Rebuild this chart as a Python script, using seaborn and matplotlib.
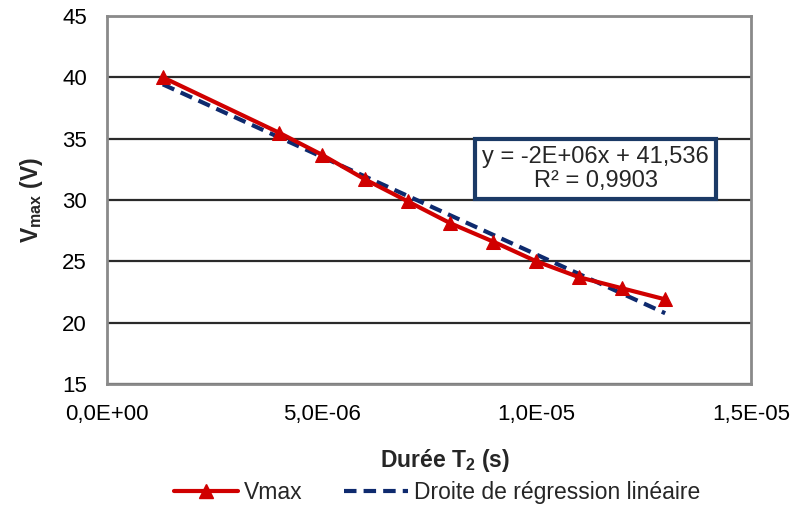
import matplotlib
matplotlib.use("Agg")
import matplotlib.pyplot as plt
import seaborn as sns
import numpy as np
import pandas as pd
from matplotlib.lines import Line2D
from matplotlib.ticker import FuncFormatter

# Data
duree_t2 = [1.3e-6, 4e-6, 5e-6, 6e-6, 7e-6, 8e-6, 9e-6, 1e-5, 1.1e-5, 1.2e-5, 1.3e-5]
vmax = [40.0, 35.5, 33.7, 31.7, 29.9, 28.1, 26.6, 25.0, 23.7, 22.8, 21.9]
y_ticks = [15, 20, 25, 30, 35, 40, 45]
x_ticks = [0, 5e-6, 1e-5, 1.5e-5]
eq_text = "y = -2E+06x + 41,536\nR² = 0,9903"
series_labels = ["Vmax", "Droite de régression linéaire"]

df = pd.DataFrame({"t2": duree_t2, "vmax": vmax})

sns.set_style("white")
plt.rcParams["font.family"] = ["Liberation Sans", "DejaVu Sans"]

fig = plt.figure(figsize=(7.95, 5.07), dpi=100)
ax = fig.add_axes([0.1346, 0.2426, 0.8101, 0.7258])

red = "#D00000"
navy = "#0E2A6E"
dash = (0, (3.0, 1.7))

# regression line (linear fit)
sns.regplot(data=df, x="t2", y="vmax", ax=ax, scatter=False, ci=None,
            line_kws=dict(color=navy, lw=3, ls=dash, zorder=3))
sns.lineplot(data=df, x="t2", y="vmax", ax=ax, color=red, lw=3, marker="^",
             markersize=10, markeredgecolor=red, zorder=4)

ax.set_xlim(0, 1.5e-5)
ax.set_ylim(15, 45)
ax.set_yticks(y_ticks)
ax.set_xticks(x_ticks)

def xfmt(v, pos):
    s = f"{v:.1E}"
    return s.replace(".", ",")

ax.xaxis.set_major_formatter(FuncFormatter(xfmt))
ax.tick_params(axis="both", labelsize=16, colors="#000000", direction="inout",
               length=7, width=1.2, color="#606060")
ax.tick_params(axis="x", pad=11)
ax.tick_params(axis="y", pad=11)
ax.yaxis.grid(True, color="#2a2a2a", lw=1.6)
ax.set_axisbelow(True)
for s in ax.spines.values():
    s.set_color("#8a8a8a")
    s.set_linewidth(2)
    s.set_visible(True)

ax.set_xlabel("Durée T$_\\mathregular{2}$ (s)", fontsize=16.5, fontweight="bold", labelpad=16)
ax.xaxis.set_label_coords(0.525, -0.17)
ax.set_ylabel("V$_\\mathregular{max}$ (V)", fontsize=16.5, fontweight="bold", labelpad=12)

ax.text(0.759, 0.584, eq_text, transform=ax.transAxes, fontsize=17,
        ha="center", va="center", linespacing=1.1,
        bbox=dict(boxstyle="square,pad=0.3", fc="white", ec="#1B3A66", lw=3))

handles = [Line2D([], [], color=red, lw=3, marker="^", markersize=10),
           Line2D([], [], color=navy, lw=3, ls=dash)]
fig.legend(handles, series_labels, loc="center", bbox_to_anchor=(0.55, 0.028),
           ncol=2, frameon=False, fontsize=16.5, handlelength=2.8, columnspacing=1.8,
           handletextpad=0.25)

fig.savefig("out.png", dpi=100)
